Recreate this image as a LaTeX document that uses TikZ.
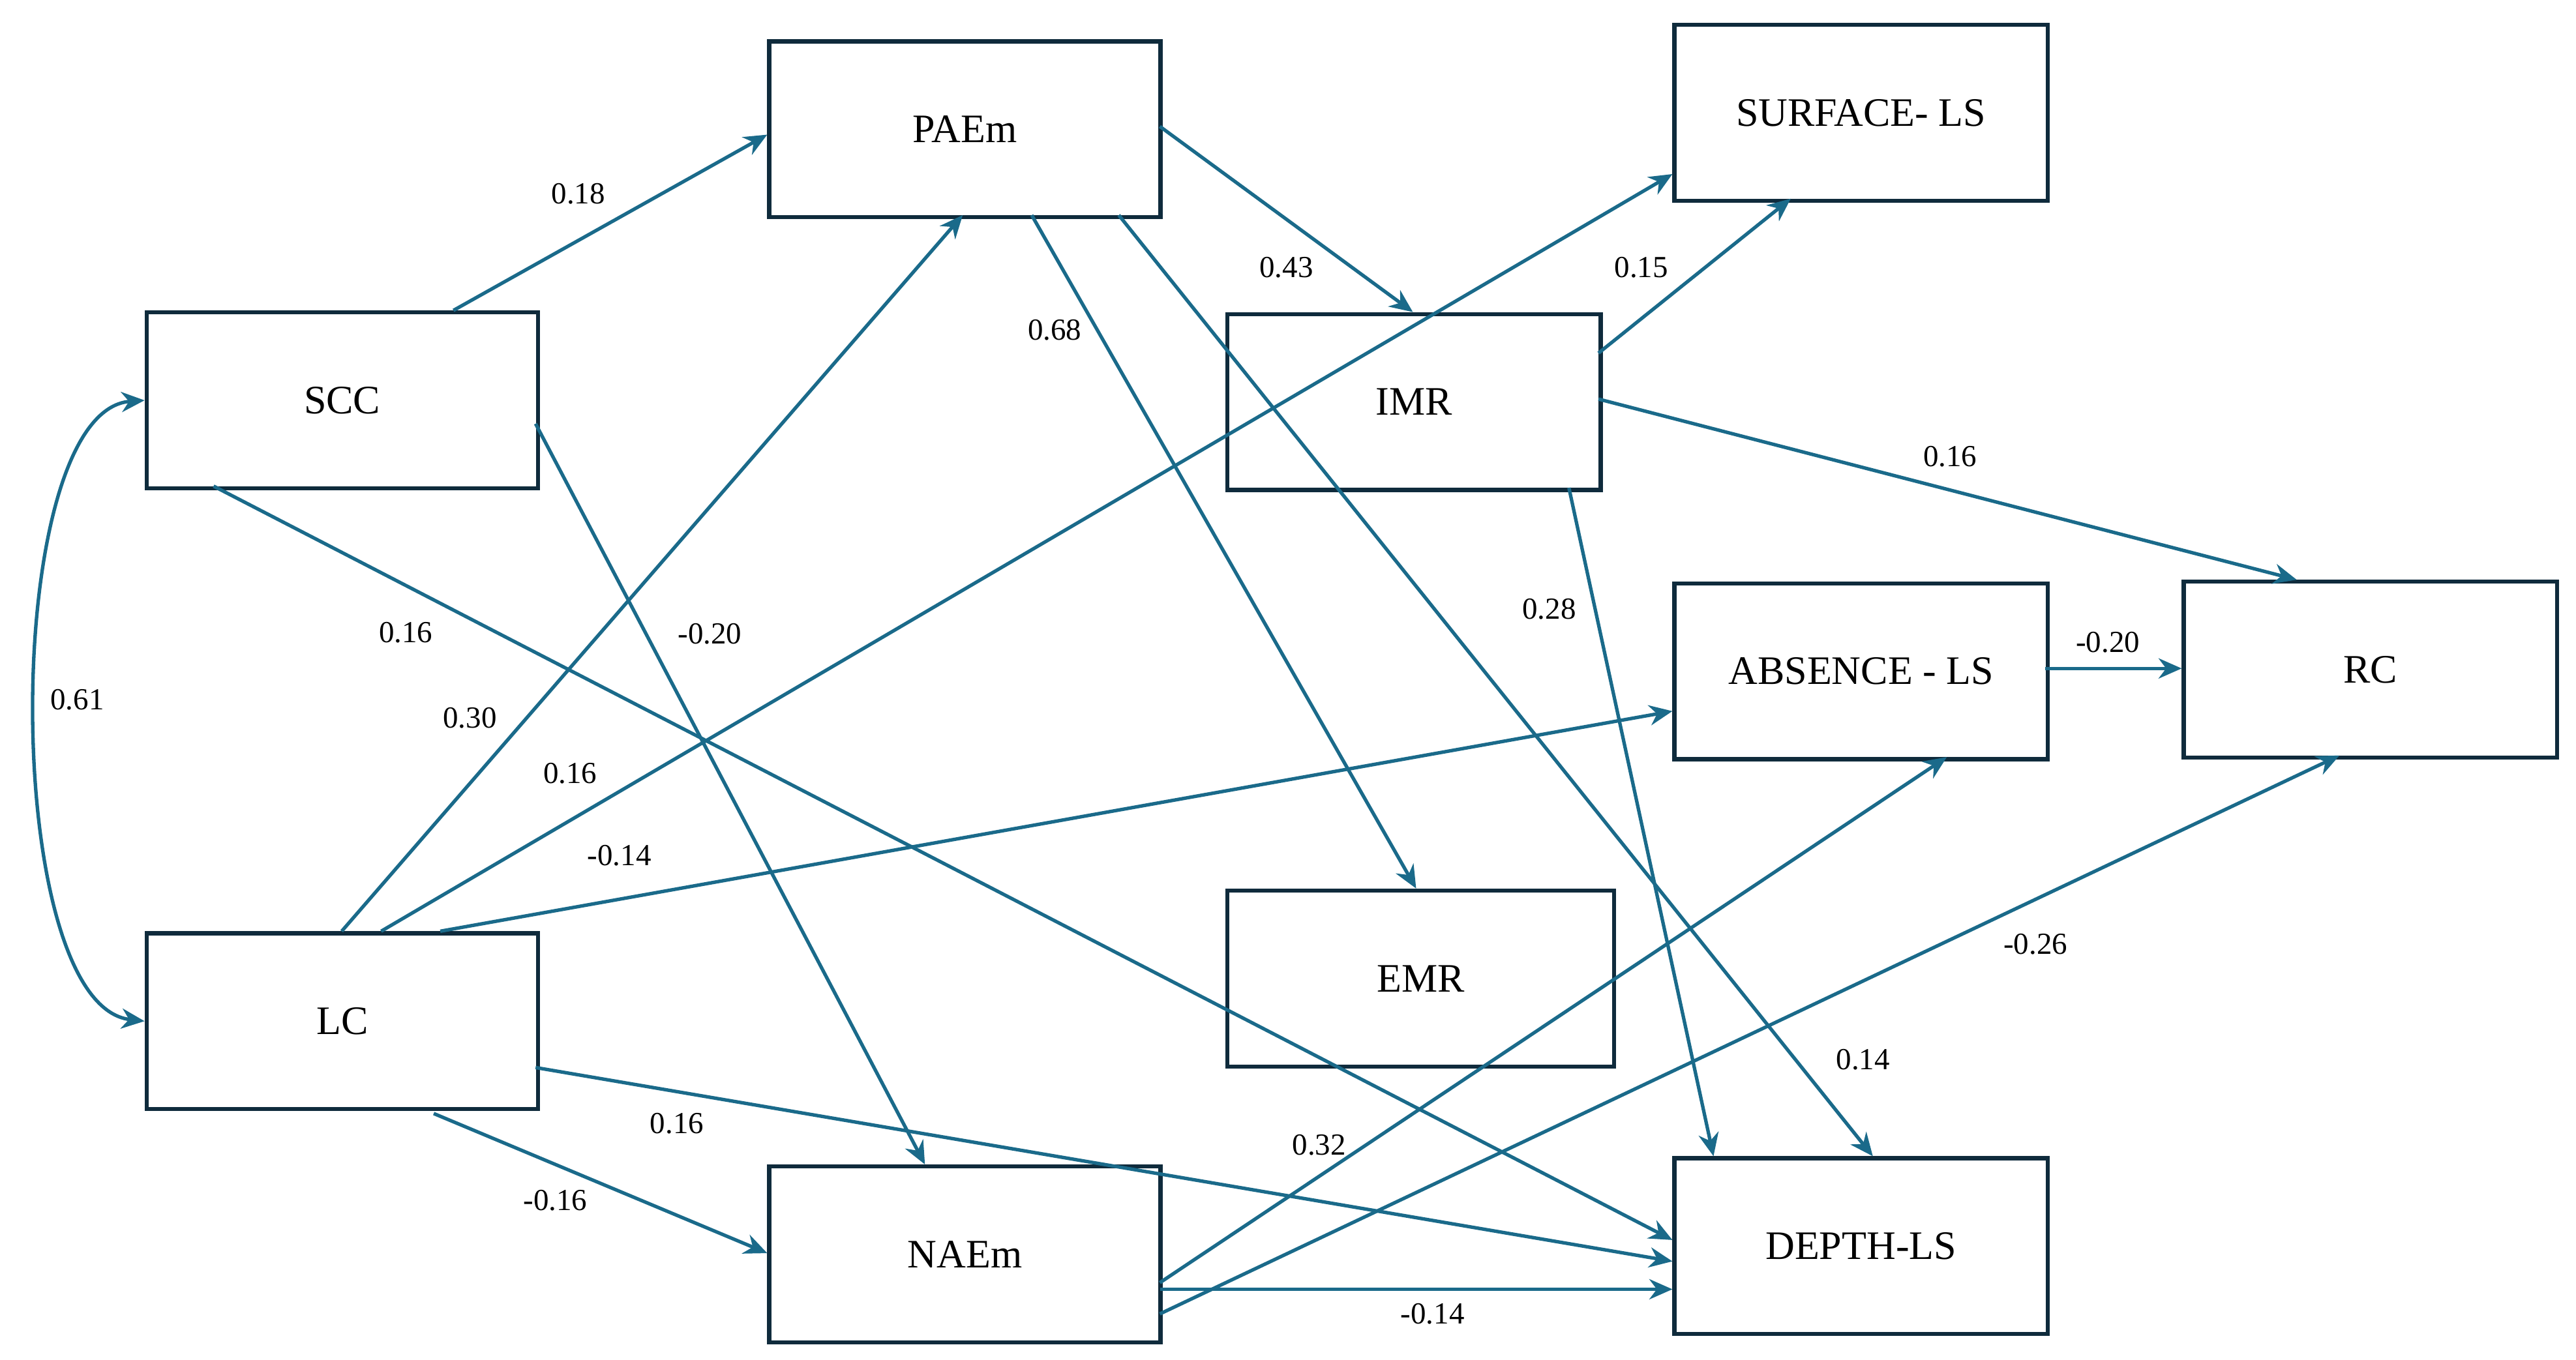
\documentclass[tikz,border=0pt]{standalone}
\usepackage{fontspec}
\setmainfont{Liberation Serif}
\usetikzlibrary{calc,arrows.meta}
\definecolor{boxc}{HTML}{0F2B3C}
\definecolor{arrc}{HTML}{1A6A8A}
\begin{document}
\begin{tikzpicture}[x=0.01cm,y=-0.01cm,
  bx/.style={draw=boxc,line width=0.7pt,anchor=north west,minimum height=1.07cm,inner sep=0pt,font=\fontsize{7}{8}\selectfont},
  w1/.style={minimum width=2.38cm},
  w2/.style={minimum width=2.27cm},
  w3/.style={minimum width=2.35cm},
  ar/.style={draw=arrc,line width=0.6pt,-{Stealth[length=4pt,width=3.5pt]}},
  lb/.style={font=\fontsize{5.3}{6}\selectfont,inner sep=0pt}]
\useasboundingbox (0,0) rectangle (1568,828);
\node[bx,w1] (scc) at (88,189) {SCC};
\node[bx,w1] (lc) at (88,567) {LC};
\node[bx,w1] (paem) at (467,24) {PAEm};
\node[bx,w1] (naem) at (467,709) {NAEm};
\node[bx,w2] (imr) at (746,190) {IMR};
\node[bx,w3] (emr) at (746,541) {EMR};
\node[bx,w2] (surf) at (1018,14) {SURFACE- LS};
\node[bx,w2] (abs) at (1018,354) {ABSENCE - LS};
\node[bx,w2] (depth) at (1018,704) {DEPTH-LS};
\node[bx,w2] (rc) at (1328,353) {RC};
\draw[ar] ($(scc.north west)+(188,0)$) -- ($(paem.north west)+(0,58)$);
\draw[ar] ($(scc.north west)+(238,69)$) -- ($(naem.north west)+(96,0)$);
\draw[ar] ($(scc.north west)+(42,107)$) -- ($(depth.north west)+(0,51)$);
\draw[ar] ($(lc.north west)+(120,0)$) -- ($(paem.north west)+(119,107)$);
\draw[ar] ($(lc.north west)+(144,0)$) -- ($(surf.north west)+(0,92)$);
\draw[ar] ($(lc.north west)+(180,0)$) -- ($(abs.north west)+(0,79)$);
\draw[ar] ($(lc.north west)+(238,83)$) -- ($(depth.north west)+(0,64)$);
\draw[ar] ($(lc.north west)+(176,111)$) -- ($(naem.north west)+(0,54)$);
\draw[ar] ($(paem.north west)+(239,53)$) -- ($(imr.north west)+(114,0)$);
\draw[ar] ($(paem.north west)+(161,107)$) -- ($(emr.north west)+(116,0)$);
\draw[ar] ($(paem.north west)+(214,107)$) -- ($(depth.north west)+(122,0)$);
\draw[ar] ($(imr.north west)+(227,25)$) -- ($(surf.north west)+(72,107)$);
\draw[ar] ($(imr.north west)+(227,53)$) -- ($(rc.north west)+(70,0)$);
\draw[ar] ($(imr.north west)+(209,107)$) -- ($(depth.north west)+(25,0)$);
\draw[ar] ($(abs.north west)+(227,53)$) -- ($(rc.north west)+(0,54)$);
\draw[ar] ($(naem.north west)+(239,72)$) -- ($(abs.north west)+(167,107)$);
\draw[ar] ($(naem.north west)+(239,91)$) -- ($(rc.north west)+(96,107)$);
\draw[ar] ($(naem.north west)+(239,76)$) -- ($(depth.north west)+(0,81)$);
\draw[ar,{Stealth[length=4pt,width=3.5pt]}-{Stealth[length=4pt,width=3.5pt]}] (scc.west) .. controls (0,250) and (0,612) .. (lc.west);
\node[lb] at (352,118) {0.18};
\node[lb] at (432,386) {-0.20};
\node[lb] at (247,385) {0.16};
\node[lb] at (286,437) {0.30};
\node[lb] at (347,471) {0.16};
\node[lb] at (377,521) {-0.14};
\node[lb] at (412,684) {0.16};
\node[lb] at (338,731) {-0.16};
\node[lb] at (783,163) {0.43};
\node[lb] at (642,201) {0.68};
\node[lb] at (1134,645) {0.14};
\node[lb] at (999,163) {0.15};
\node[lb] at (1187,278) {0.16};
\node[lb] at (943,371) {0.28};
\node[lb] at (1283,391) {-0.20};
\node[lb] at (803,697) {0.32};
\node[lb] at (1239,575) {-0.26};
\node[lb] at (872,800) {-0.14};
\node[lb] at (47,426) {0.61};
\end{tikzpicture}
\end{document}
